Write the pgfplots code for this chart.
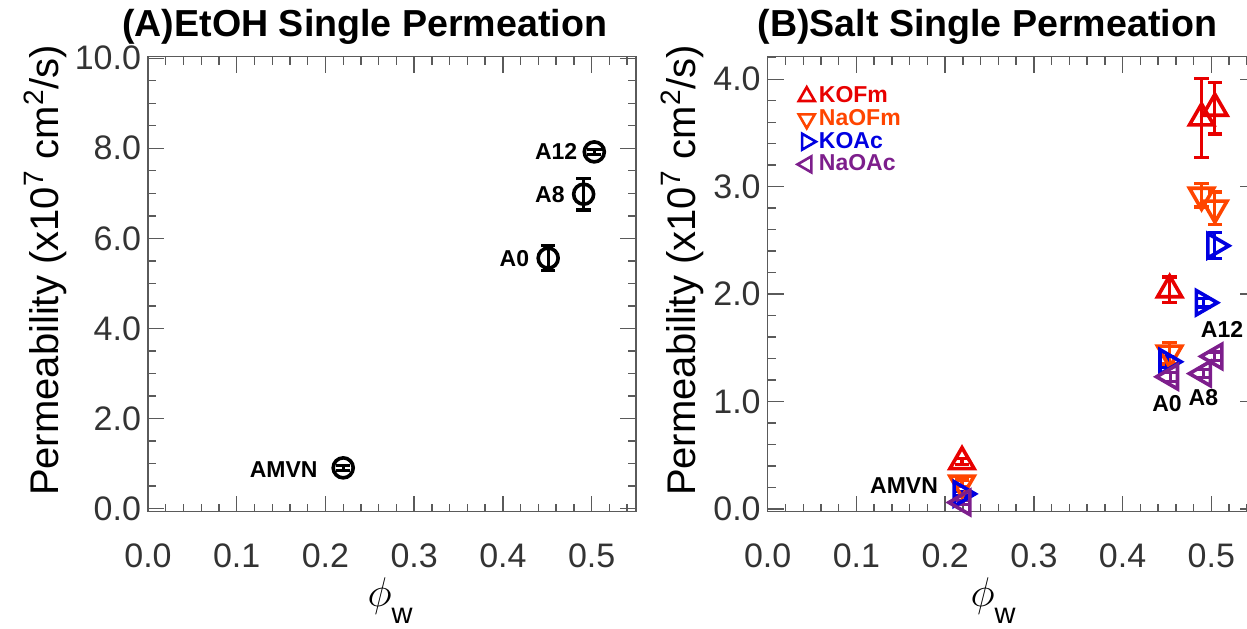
\documentclass[border=0pt]{standalone}
\usepackage{pgfplots}
\pgfplotsset{compat=1.18}
\usepackage{fontspec}
\setmainfont{Liberation Sans}
\definecolor{kofm}{RGB}{232,0,0}
\definecolor{naofm}{RGB}{255,69,0}
\definecolor{koac}{RGB}{0,0,225}
\definecolor{naoac}{RGB}{125,30,140}
\definecolor{axc}{RGB}{90,90,90}
\tikzset{lbl/.style={font=\bfseries\fontsize{11.5}{13}\selectfont, inner sep=0pt},
         ttl/.style={font=\bfseries\fontsize{18.8}{22}\selectfont, inner sep=0pt, anchor=base}}
\pgfplotsset{
  panel/.style={
    scale only axis, width=244pt, height=227.4pt, clip=false,
    xmin=0, xmax=0.55,
    xtick={0,0.1,0.2,0.3,0.4,0.5},
    minor xtick={0.02,0.04,0.06,0.08,0.12,0.14,0.16,0.18,0.22,0.24,0.26,0.28,0.32,0.34,0.36,0.38,0.42,0.44,0.46,0.48,0.52,0.54},
    tick align=inside, major tick length=8pt, minor tick length=4pt,
    axis line style={axc, line width=0.7pt},
    every tick/.style={axc, line width=0.7pt},
    /pgf/number format/assume math mode=true,
    tick label style={font=\fontsize{17}{20}\selectfont, color=black!80},
    xticklabel style={/pgf/number format/.cd, fixed, fixed zerofill, precision=1, /tikz/.cd, yshift=-12.5pt},
    yticklabel style={/pgf/number format/.cd, fixed, fixed zerofill, precision=1},
    label style={font=\fontsize{20}{24}\selectfont, inner sep=0pt},
    ylabel={Permeability (x10\textsuperscript{7} cm\textsuperscript{2}/s)},
    xlabel={$\phi$\raisebox{-8.5pt}{\fontsize{14.5}{16}\selectfont w}},
    error bars/error bar style={line width=1.6pt},
    error bars/error mark options={line width=1.6pt, mark size=3.6pt, rotate=90},
  },
}
\begin{document}
\begin{tikzpicture}
\path[use as bounding box] (-74pt,-58.25pt) rectangle (549.5pt,255.75pt);
% ---------------- Panel A ----------------
\begin{axis}[panel, at={(0pt,0pt)}, anchor=south west,
  ymin=-0.07, ymax=10.035,
  ytick={0,2,4,6,8,10},
  minor ytick={0.5,1,1.5,2.5,3,3.5,4.5,5,5.5,6.5,7,7.5,8.5,9,9.5},
  ylabel style={at={(rel axis cs:-0.211,0.53)}, anchor=center},
  xlabel style={at={(rel axis cs:0.496,-0.196)}, anchor=center},
]
\addplot[only marks, black, mark=o, mark size=5pt, line width=1.8pt,
  error bars/.cd, y dir=both, y explicit]
  table[x=x, y=y, y error=e] {
x      y     e
0.220  0.90  0.05
0.451  5.56  0.28
0.491  6.98  0.35
0.503  7.92  0.05
};
\node[lbl] at (axis cs:0.153,0.87) {AMVN};
\node[lbl] at (axis cs:0.413,5.55) {A0};
\node[lbl] at (axis cs:0.453,6.98) {A8};
\node[lbl] at (axis cs:0.460,7.92) {A12};
\node[ttl] at (rel axis cs:0.444,1.045) {(A)EtOH Single Permeation};
\end{axis}
% ---------------- Panel B ----------------
\begin{axis}[panel, at={(309.85pt,0pt)}, anchor=south west,
  ymin=-0.024, ymax=4.21,
  ytick={0,1,2,3,4},
  minor ytick={0.2,0.4,0.6,0.8,1.2,1.4,1.6,1.8,2.2,2.4,2.6,2.8,3.2,3.4,3.6,3.8,4.2},
  ylabel style={at={(rel axis cs:-0.174,0.53)}, anchor=center},
  xlabel style={at={(rel axis cs:0.462,-0.196)}, anchor=center},
  legend style={at={(rel axis cs:0.048,0.950)}, anchor=north west, draw=none, fill=none,
    font=\bfseries\fontsize{11.5}{13}\selectfont, row sep=-1.2pt, nodes={inner sep=1.5pt}},
  legend cell align=left,
  legend image code/.code={\draw[mark size=4.6pt, line width=1.3pt] plot coordinates {(0.2cm,0cm)};},
]
\addplot[only marks, kofm, mark=triangle, mark size=7pt, line width=1.8pt,
  error bars/.cd, y dir=both, y explicit]
  table[x=x, y=y, y error=e] {
x      y     e
0.219  0.44  0.03
0.453  2.04  0.12
0.489  3.64  0.37
0.504  3.73  0.24
};
\addlegendentry{\textcolor{kofm}{KOFm}}
\addplot[only marks, naofm, mark=triangle, mark size=7pt, line width=1.8pt, mark options={rotate=180},
  error bars/.cd, y dir=both, y explicit]
  table[x=x, y=y, y error=e] {
x      y     e
0.219  0.24  0.03
0.453  1.45  0.10
0.489  2.92  0.11
0.504  2.80  0.15
};
\addlegendentry{\textcolor{naofm}{NaOFm}}
\addplot[only marks, koac, mark=triangle, mark size=7pt, line width=1.8pt, mark options={rotate=-90},
  error bars/.cd, y dir=both, y explicit]
  table[x=x, y=y, y error=e] {
x      y     e
0.218  0.14  0.02
0.450  1.37  0.05
0.491  1.92  0.04
0.504  2.45  0.12
};
\addlegendentry{\textcolor{koac}{KOAc}}
\addplot[only marks, naoac, mark=triangle, mark size=7pt, line width=1.8pt, mark options={rotate=90},
  error bars/.cd, y dir=both, y explicit]
  table[x=x, y=y, y error=e] {
x      y     e
0.220  0.06  0.02
0.454  1.23  0.04
0.491  1.26  0.04
0.504  1.42  0.04
};
\addlegendentry{\textcolor{naoac}{NaOAc}}
\node[lbl] at (axis cs:0.1537,0.213) {AMVN};
\node[lbl] at (axis cs:0.450,0.983) {A0};
\node[lbl] at (axis cs:0.491,1.033) {A8};
\node[lbl] at (axis cs:0.512,1.667) {A12};
\node[ttl] at (rel axis cs:0.450,1.045) {(B)Salt Single Permeation};
\end{axis}
\end{tikzpicture}
\end{document}
